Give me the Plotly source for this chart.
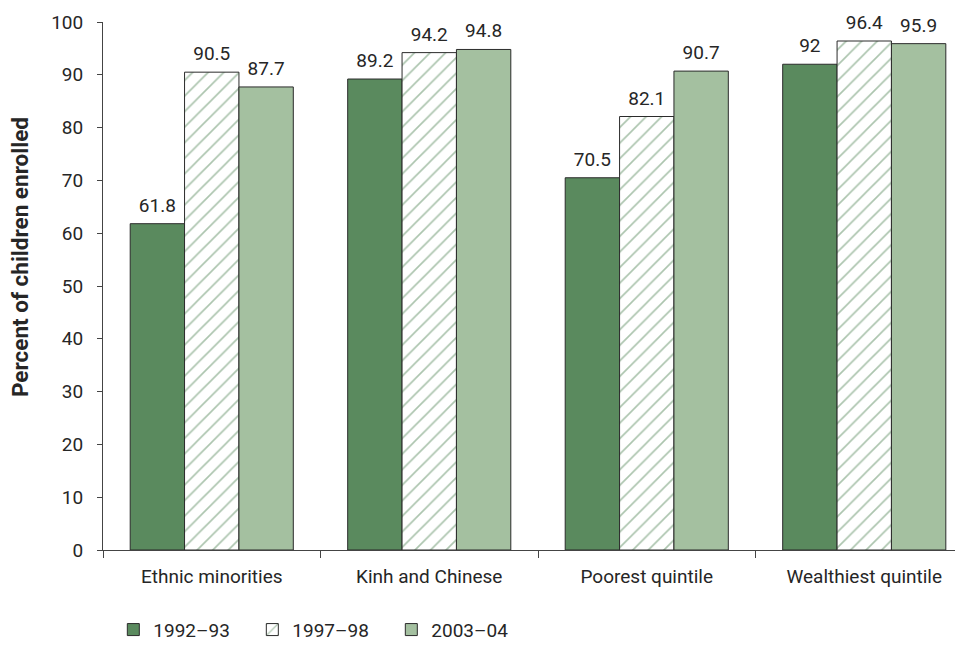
import plotly.graph_objects as go

categories = ["Ethnic minorities", "Kinh and Chinese", "Poorest quintile", "Wealthiest quintile"]
series_names = ["1992–93", "1997–98", "2003–04"]
v_1992 = [61.8, 89.2, 70.5, 92]
v_1997 = [90.5, 94.2, 82.1, 96.4]
v_2003 = [87.7, 94.8, 90.7, 95.9]
y_ticks = [0, 10, 20, 30, 40, 50, 60, 70, 80, 90, 100]

FONT = "Roboto, Arial, sans-serif"
DARK = "#5a8a5e"
LIGHT = "#a4c0a0"
LINE = "#2b2b2b"
TXT = "#262626"

series = [
    (series_names[0], v_1992, dict(color=DARK, line=dict(color=LINE, width=1))),
    (series_names[1], v_1997, dict(color="white", line=dict(color=LINE, width=1),
                                   pattern=dict(shape="/", fgcolor=DARK, bgcolor="white",
                                                size=11, solidity=0.15))),
    (series_names[2], v_2003, dict(color=LIGHT, line=dict(color=LINE, width=1))),
]

fig = go.Figure()
for name, vals, marker in series:
    fig.add_trace(go.Bar(x=categories, y=vals, name=name, marker=marker,
                         offsetgroup=name))
# value labels as grouped text points (invisible marker gives the gap above the bar)
for name, vals, marker in series:
    fig.add_trace(go.Scatter(
        x=categories, y=vals, mode="markers+text", text=[f"{v:g}" for v in vals],
        textposition="top center", offsetgroup=name, showlegend=False,
        marker=dict(size=10, opacity=0), cliponaxis=False, hoverinfo="skip",
        textfont=dict(family=FONT, size=19, color=TXT)))

# page body has an 8px margin: figure is 955x653 so plot spans x 103..963, y 22..550 on screen
fig.update_layout(
    width=955, height=653,
    margin=dict(l=95, r=0, t=14, b=111),
    paper_bgcolor="white", plot_bgcolor="white",
    font=dict(family=FONT, size=19, color=TXT),
    barmode="group", bargap=0.25, bargroupgap=0,
    scattermode="group", scattergap=0.25,
    showlegend=True,
    legend=dict(orientation="h", x=0.012, xanchor="left", y=-0.151, yanchor="middle",
                font=dict(size=19, color=TXT), itemwidth=30, entrywidth=94,
                entrywidthmode="pixels"),
    annotations=[dict(
        text="<b>Percent of children enrolled</b>", textangle=-90,
        xref="paper", yref="paper", x=(20 - 103) / 860, y=(550 - 257) / 528,
        xanchor="center", yanchor="middle", showarrow=False,
        font=dict(family=FONT, size=22.5, color=TXT))],
)
fig.update_xaxes(
    range=[-0.5, 3.454], showline=True, linecolor="#444", linewidth=1,
    ticks="outside", tickson="boundaries", ticklen=7, tickcolor="#444",
    ticklabelstandoff=9,
    tickfont=dict(size=19, color=TXT), showgrid=False)
fig.update_yaxes(
    range=[0, 100], tickvals=y_ticks, showline=True, linecolor="#444", linewidth=1,
    ticks="outside", ticklen=5, tickcolor="#444", showgrid=False, zeroline=False,
    ticklabelstandoff=10,
    tickfont=dict(size=19, color=TXT))

fig.write_html("out.html")
